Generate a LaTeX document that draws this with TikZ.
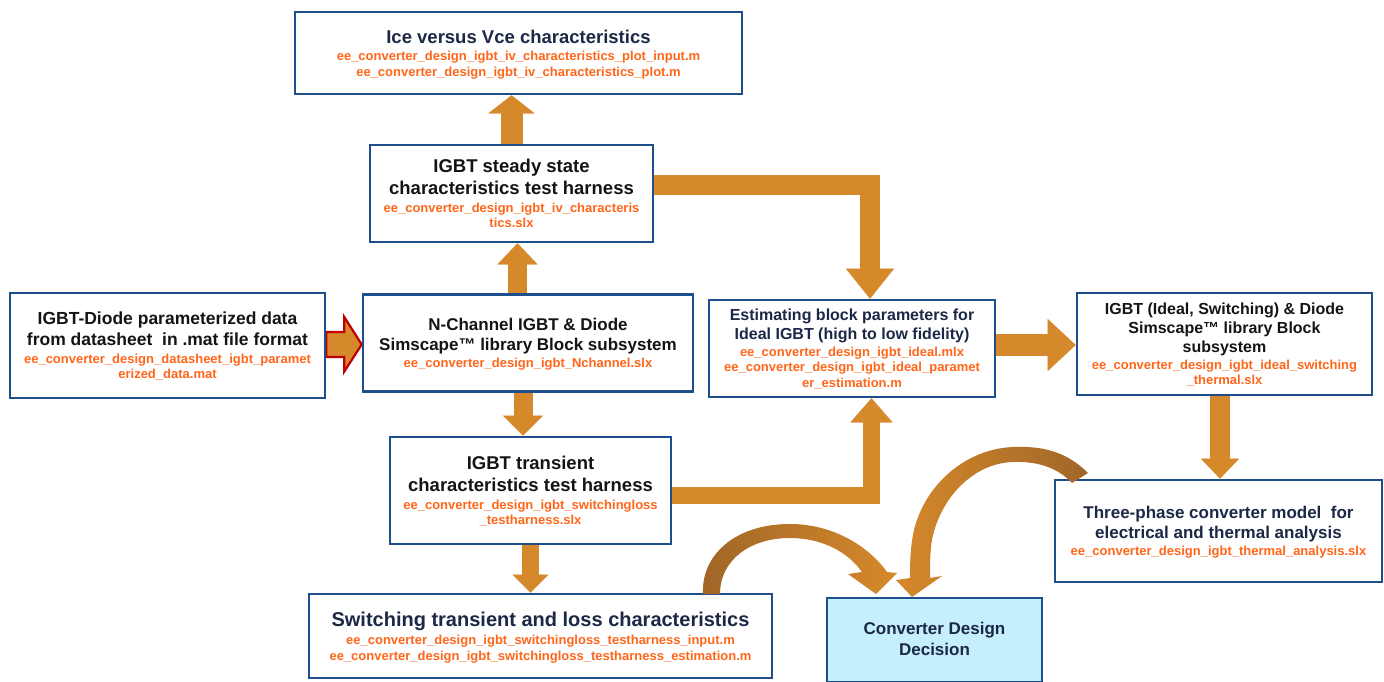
\documentclass[tikz,border=0pt]{standalone}
\usepackage{fontspec}
\setmainfont{Liberation Sans}
\usetikzlibrary{arrows.meta,calc,backgrounds}
\definecolor{bordc}{RGB}{31,78,140}
\definecolor{navyt}{RGB}{27,40,70}
\definecolor{blackt}{RGB}{20,20,20}
\definecolor{filec}{RGB}{255,102,26}
\definecolor{arrc}{RGB}{214,137,42}
\definecolor{arrd}{RGB}{160,102,40}
\definecolor{convfill}{RGB}{198,239,252}
\definecolor{redc}{RGB}{192,0,0}
\newcommand\Ttl[3]{{\fontsize{#1}{0}\selectfont\color{#2}\rule[-0.3\dimexpr#1pt\relax]{0pt}{1.2\dimexpr#1pt\relax}#3}}
\newcommand\Nv[2][18]{\Ttl{#1}{navyt}{#2}}
\newcommand\Bk[2][18]{\Ttl{#1}{blackt}{#2}}
\newcommand\Fl[1]{{\fontsize{13}{0}\selectfont\color{filec}\rule[-3.5pt]{0pt}{15.5pt}#1}}
\newcommand\Lines[1]{\vbox{\baselineskip=0pt\lineskip=0pt\lineskiplimit=0pt\halign{\hfil##\hfil\cr#1\crcr}}}
\tikzset{
  box/.style={draw=bordc, line width=2.6, fill=white, inner sep=0pt, font=\bfseries},
  fat/.style={draw=arrc, line width=#1, line join=miter},
  tip/.style 2 args={-{Triangle[width=#1pt,length=#2pt,line width=0.1pt]}},
  redar/.style={draw=redc, fill=arrc, line width=2.2, line join=miter}
}
\begin{document}
\begin{tikzpicture}[x=1pt,y=-1pt]
\useasboundingbox (0,0) rectangle (1384,681);

\node[box, minimum width=447, minimum height=82] (top) at (518.5,53)
  {\Lines{\Nv[18.5]{Ice versus Vce characteristics}\cr
   \Fl{ee\_converter\_design\_igbt\_iv\_characteristics\_plot\_input.m}\cr
   \Fl{ee\_converter\_design\_igbt\_iv\_characteristics\_plot.m}}};

\node[box, minimum width=283, minimum height=97] (steady) at (511.5,193.5)
  {\Lines{\Bk[18.5]{IGBT steady state}\cr
   \Bk[18.5]{characteristics test harness}\cr
   \Fl{ee\_converter\_design\_igbt\_iv\_characteris}\cr
   \Fl{tics.slx}}};

\node[box, minimum width=315, minimum height=105] (left) at (167.5,345.5)
  {\Lines{\Bk[17.5]{IGBT-Diode parameterized data}\cr
   \Bk[17.5]{from datasheet\ \ in .mat file format}\cr
   \Fl{ee\_converter\_design\_datasheet\_igbt\_paramet}\cr
   \Fl{erized\_data.mat}}};

\node[box, minimum width=330, minimum height=97] (nchan) at (528,343)
  {\Lines{\Bk[17]{N-Channel IGBT \& Diode}\cr
   \Bk[17]{Simscape™ library Block subsystem}\cr
   \Fl{ee\_converter\_design\_igbt\_Nchannel.slx}}};

\node[box, minimum width=286, minimum height=97] (est) at (852,348.5)
  {\Lines{\Nv[16]{Estimating block parameters for}\cr
   \Nv[16]{Ideal IGBT (high to low fidelity)}\cr
   \Fl{ee\_converter\_design\_igbt\_ideal.mlx}\cr
   \Fl{ee\_converter\_design\_igbt\_ideal\_paramet}\cr
   \Fl{er\_estimation.m}}};

\node[box, minimum width=295, minimum height=102] (right) at (1224.5,344)
  {\Lines{\Bk[16]{IGBT (Ideal, Switching) \& Diode}\cr
   \Bk[16]{Simscape™ library Block}\cr
   \Bk[16]{subsystem}\cr
   \Fl{ee\_converter\_design\_igbt\_ideal\_switching}\cr
   \Fl{\_thermal.slx}}};

\node[box, minimum width=281, minimum height=107] (trans) at (530.5,490.5)
  {\Lines{\Bk[18.5]{IGBT transient}\cr
   \Bk[18.5]{characteristics test harness}\cr
   \Fl{ee\_converter\_design\_igbt\_switchingloss}\cr
   \Fl{\_testharness.slx}}};

\node[box, minimum width=463, minimum height=84] (switch) at (540.5,636)
  {\Lines{\Nv[20]{Switching transient and loss characteristics}\cr
   \Fl{ee\_converter\_design\_igbt\_switchingloss\_testharness\_input.m}\cr
   \Fl{ee\_converter\_design\_igbt\_switchingloss\_testharness\_estimation.m}}};

\node[box, fill=convfill, minimum width=215, minimum height=84] (conv) at (934.5,640)
  {\Lines{\Nv[17]{Converter Design}\cr
   \Nv[17]{Decision}}};

\node[box, minimum width=327, minimum height=102] (three) at (1218.5,531)
  {\Lines{\Nv[17]{Three-phase converter model\ \ for}\cr
   \Nv[17]{electrical and thermal analysis}\cr
   \Fl{ee\_converter\_design\_igbt\_thermal\_analysis.slx}}};

\begin{pgfonlayer}{background}
\fill[white] (0,0) rectangle (1384,681);
% steady -> top
\draw[fat=22, tip={46}{18}] (steady.north) -- (steady.north |- top.south);
% nchan -> steady
\coordinate (a2) at ($(nchan.north)+(-10.5,0)$);
\draw[fat=19, tip={40}{21}] (a2) -- (a2 |- steady.south);
% nchan -> trans
\coordinate (a3) at ($(nchan.south)+(-5,0)$);
\draw[fat=19, tip={40}{20}] (a3) -- (a3 |- trans.north);
% trans -> switch
\draw[fat=17, tip={36}{18}] (trans.south) -- (trans.south |- switch.north);
% steady -> est (elbow)
\draw[fat=20, tip={48}{30}] ($(steady.east)+(0,-8.5)$) -| ($(est.north)+(18,0)$);
% trans -> est (elbow)
\draw[fat=17, tip={42}{24}] ($(trans.east)+(0,4.5)$) -| ($(est.south)+(19.5,0)$);
% est -> right
\coordinate (a7) at ($(est.east)+(0,-3.5)$);
\draw[fat=22, tip={52}{28}] (a7) -- (a7 -| right.west);
% right -> three
\coordinate (a8) at ($(right.south)+(-4.5,0)$);
\draw[fat=20, tip={38}{20}] (a8) -- (a8 |- three.north);
% left -> nchan (red outlined)
\coordinate (ra) at ($(left.east)+(0,-1)$);
\coordinate (rt) at (nchan.west |- ra);
\draw[redar] ($(ra)+(0,-12.5)$) -- ($(ra)+(18,-12.5)$) -- ($(ra)+(18,-27.5)$)
  -- (rt) -- ($(ra)+(18,27)$) -- ($(ra)+(18,12.5)$) -- ($(ra)+(0,12.5)$) -- cycle;
\end{pgfonlayer}

% curved arrow: switching -> converter
\shade[left color=arrd, right color=arrc]
  (703,594) .. controls (701,555) and (735,524) .. (790,524)
  .. controls (835,524) and (870,548) .. (887,572)
  -- (897,573) -- (876,594) -- (848,574) -- (862,572)
  .. controls (848,552) and (822,538) .. (790,538)
  .. controls (750,538) and (720,560) .. (720,594) -- cycle;

% curved arrow: three-phase -> converter
\shade[left color=arrc, right color=arrd]
  (1088,473) .. controls (1065,450) and (1040,446) .. (1013,447)
  .. controls (965,449) and (925,485) .. (914,530)
  .. controls (910,548) and (910,565) .. (910,578)
  -- (896,580) -- (912,597) -- (942,576) -- (930,578)
  .. controls (930,560) and (930,548) .. (933,535)
  .. controls (943,495) and (975,463) .. (1013,462)
  .. controls (1038,461) and (1058,468) .. (1072,483) -- cycle;
\end{tikzpicture}
\end{document}
